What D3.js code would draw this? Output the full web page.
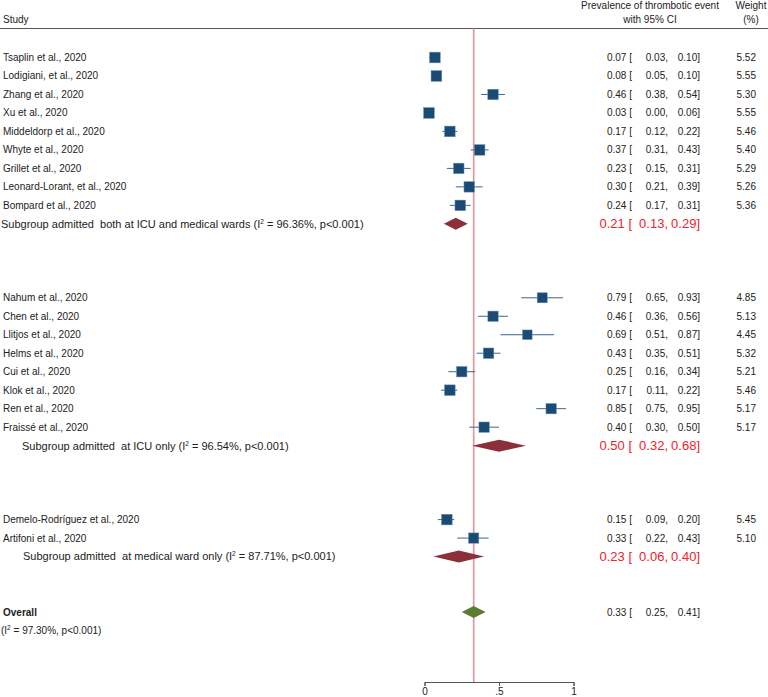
<!DOCTYPE html>
<html>
<head>
<meta charset="utf-8">
<script src="https://cdn.jsdelivr.net/npm/d3@7"></script>
<style>
  html, body { margin: 0; padding: 0; background: #fff; }
  svg { display: block; font-family: "Liberation Sans", Arial, Helvetica, sans-serif; }
  svg text { white-space: pre; }
</style>
</head>
<body>
<svg id="chart" width="768" height="697"></svg>
<script>
// ---------------- DATA ----------------
const studies = [
  "Tsaplin et al., 2020", "Lodigiani, et al., 2020", "Zhang et al., 2020", "Xu et al., 2020",
  "Middeldorp et al., 2020", "Whyte et al., 2020", "Grillet et al., 2020",
  "Leonard-Lorant, et al., 2020", "Bompard et al., 2020",
  "Nahum et al., 2020", "Chen et al., 2020", "Llitjos et al., 2020", "Helms et al., 2020",
  "Cui et al., 2020", "Klok et al., 2020", "Ren et al., 2020", "Fraissé et al., 2020",
  "Demelo-Rodríguez et al., 2020", "Artifoni et al., 2020"
];
const studyGroup = [0,0,0,0,0,0,0,0,0, 1,1,1,1,1,1,1,1, 2,2];
const estimates = [0.07,0.08,0.46,0.03,0.17,0.37,0.23,0.30,0.24, 0.79,0.46,0.69,0.43,0.25,0.17,0.85,0.40, 0.15,0.33];
const lowerCI   = [0.03,0.05,0.38,0.00,0.12,0.31,0.15,0.21,0.17, 0.65,0.36,0.51,0.35,0.16,0.11,0.75,0.30, 0.09,0.22];
const upperCI   = [0.10,0.10,0.54,0.06,0.22,0.43,0.31,0.39,0.31, 0.93,0.56,0.87,0.51,0.34,0.22,0.95,0.50, 0.20,0.43];
const weights   = [5.52,5.55,5.30,5.55,5.46,5.40,5.29,5.26,5.36, 4.85,5.13,4.45,5.32,5.21,5.46,5.17,5.17, 5.45,5.10];

const subgroupLabels = [
  "Subgroup admitted  both at ICU and medical wards",
  "Subgroup admitted  at ICU only",
  "Subgroup admitted  at medical ward only"
];
const subgroupI2  = ["96.36%", "96.54%", "87.71%"];
const subgroupEst = [0.21, 0.50, 0.23];
const subgroupLo  = [0.13, 0.32, 0.06];
const subgroupHi  = [0.29, 0.68, 0.40];

const overallLabel = "Overall";
const overallI2 = "97.30%";
const overallEst = 0.33, overallLo = 0.25, overallHi = 0.41;

const axisTicks = [0, 0.5, 1];
const axisTickLabels = ["0", ".5", "1"];

// ---------------- LAYOUT ----------------
const svg = d3.select("#chart");
const W = 768;
const fmt = d3.format(".2f");

// row index layout: studies, subgroup summary, blanks between groups
const rows = [];
let r = 0;
for (let g = 0; g < 3; g++) {
  studies.forEach((s, i) => { if (studyGroup[i] === g) rows.push({type: "study", i, row: r++}); });
  rows.push({type: "sub", g, row: r++});
  r += (g < 2) ? 3 : 2;
}
rows.push({type: "overall", row: r});
const lastRow = r;

const y = d3.scaleLinear().domain([0, lastRow]).range([57.5, 612]);
const x = d3.scaleLinear().domain([0, 1]).range([424.5, 573.5]);
const side = d3.scaleSqrt().domain([0, 5.52]).range([0, 10.7]);

const textColor = "#222";
const colEst = 632, colLo = 668, colHi = 700, colW = 756;
const headerLineY = 28.5, axisY = 682;
const subIndent = [1, 22, 23];

// header
const hdr = svg.append("g").attr("font-size", 10).attr("fill", textColor);
hdr.append("text").attr("x", 3).attr("y", 23).text("Study");
hdr.append("text").attr("x", 650).attr("y", 9).attr("text-anchor", "middle").text("Prevalence of thrombotic event");
hdr.append("text").attr("x", 650).attr("y", 23).attr("text-anchor", "middle").text("with 95% CI");
hdr.append("text").attr("x", 751).attr("y", 9).attr("text-anchor", "middle").text("Weight");
hdr.append("text").attr("x", 751).attr("y", 23).attr("text-anchor", "middle").text("(%)");
svg.append("line").attr("x1", 0).attr("x2", W).attr("y1", headerLineY).attr("y2", headerLineY)
  .attr("stroke", "#555").attr("stroke-width", 1.2);

// overall reference line
svg.append("line")
  .attr("x1", x(overallEst)).attr("x2", x(overallEst))
  .attr("y1", headerLineY).attr("y2", axisY)
  .attr("stroke", "#e0929b").attr("stroke-width", 1.6);

function ciText(g, yy, est, lo, hi, size, color) {
  const t = g.append("g").attr("font-size", size).attr("fill", color);
  t.append("text").attr("x", colEst).attr("y", yy).attr("dy", "0.35em").attr("text-anchor", "end").text(fmt(est) + " [");
  t.append("text").attr("x", colLo).attr("y", yy).attr("dy", "0.35em").attr("text-anchor", "end").text(fmt(lo) + ",");
  t.append("text").attr("x", colHi).attr("y", yy).attr("dy", "0.35em").attr("text-anchor", "end").text(fmt(hi) + "]");
}

function i2Label(sel, prefix, val) {
  sel.append("tspan").text(prefix + "(I");
  sel.append("tspan").attr("font-size", 6.5).attr("dy", -4).text("2");
  sel.append("tspan").attr("dy", 4).text(" = " + val + ", p<0.001)");
}

const body = svg.append("g");

rows.forEach(d => {
  const yy = y(d.row);
  if (d.type === "study") {
    const i = d.i;
    body.append("text").attr("x", 3).attr("y", yy).attr("dy", "0.35em")
      .attr("font-size", 10).attr("fill", textColor).text(studies[i]);
    body.append("line").attr("x1", x(lowerCI[i])).attr("x2", x(upperCI[i]))
      .attr("y1", yy).attr("y2", yy).attr("stroke", "#3a6892").attr("stroke-width", 1);
    const s = side(weights[i]);
    body.append("rect").attr("x", x(estimates[i]) - s / 2).attr("y", yy - s / 2)
      .attr("width", s).attr("height", s).attr("fill", "#1b4a75")
      .attr("stroke", "#6f8fae").attr("stroke-width", 0.5);
    ciText(body, yy, estimates[i], lowerCI[i], upperCI[i], 10, textColor);
    body.append("text").attr("x", colW).attr("y", yy).attr("dy", "0.35em").attr("text-anchor", "end")
      .attr("font-size", 10).attr("fill", textColor).text(fmt(weights[i]));
  } else if (d.type === "sub") {
    const g = d.g;
    const t = body.append("text").attr("x", subIndent[g]).attr("y", yy).attr("dy", "0.35em")
      .attr("font-size", 11).attr("fill", textColor);
    i2Label(t, subgroupLabels[g] + " ", subgroupI2[g]);
    const pts = [[x(subgroupLo[g]), yy], [x(subgroupEst[g]), yy - 6], [x(subgroupHi[g]), yy], [x(subgroupEst[g]), yy + 6]];
    body.append("polygon").attr("points", pts.map(p => p.join(",")).join(" ")).attr("fill", "#8c2f3b");
    ciText(body, yy, subgroupEst[g], subgroupLo[g], subgroupHi[g], 13, "#f0222a");
  } else {
    body.append("text").attr("x", 3).attr("y", yy).attr("dy", "0.35em")
      .attr("font-size", 10).attr("font-weight", "bold").attr("fill", textColor).text(overallLabel);
    const t = body.append("text").attr("x", 1).attr("y", yy + 18).attr("dy", "0.35em")
      .attr("font-size", 10).attr("fill", textColor);
    i2Label(t, "", overallI2);
    const pts = [[x(overallLo), yy], [x(overallEst), yy - 6], [x(overallHi), yy], [x(overallEst), yy + 6]];
    body.append("polygon").attr("points", pts.map(p => p.join(",")).join(" ")).attr("fill", "#5b7d31");
    ciText(body, yy, overallEst, overallLo, overallHi, 10, textColor);
  }
});

// x axis
const axis = d3.axisBottom(x).tickValues(axisTicks)
  .tickFormat((d, i) => axisTickLabels[i]).tickSize(4).tickPadding(2);
const ag = svg.append("g").attr("transform", `translate(0,${axisY})`).call(axis);
ag.select(".domain").attr("stroke", "#555");
ag.selectAll(".tick line").attr("stroke", "#555");
ag.selectAll(".tick text").attr("font-size", 10).attr("fill", textColor)
  .attr("font-family", "'Liberation Sans', Arial, sans-serif");
</script>
</body>
</html>
